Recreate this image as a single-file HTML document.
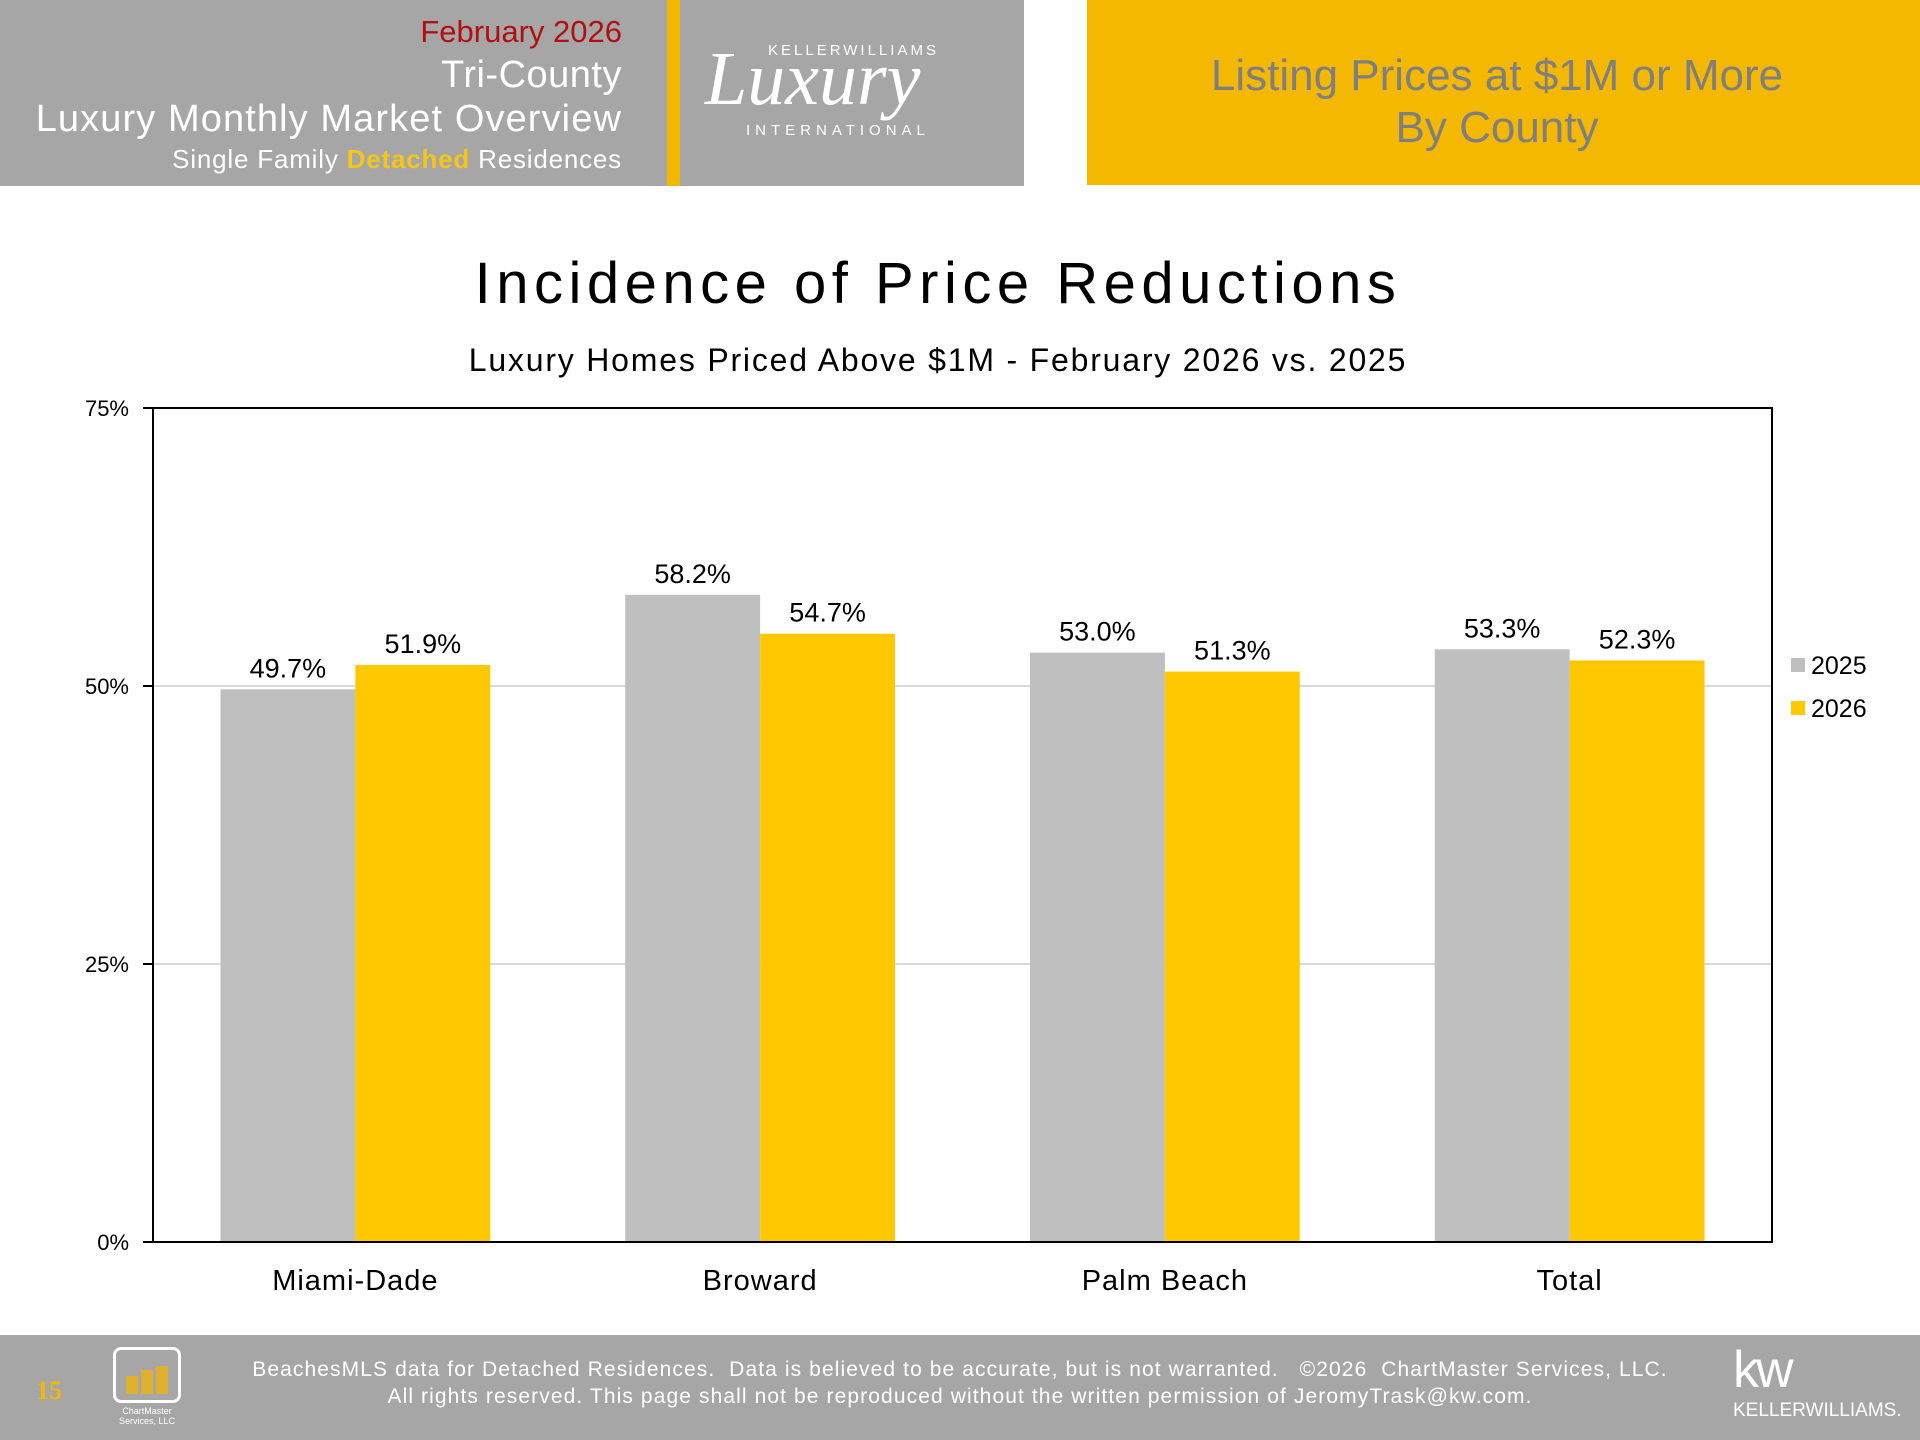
<!DOCTYPE html>
<html><head><meta charset="utf-8"><style>
body{margin:0;width:1920px;height:1440px;position:relative;background:#fff;font-family:"Liberation Sans","DejaVu Sans",sans-serif;overflow:hidden}
.a{position:absolute;white-space:nowrap}
</style></head><body>
<div class="a" style="left:0;top:0;width:1024px;height:186px;background:#a6a6a6"></div>
<div class="a" style="left:667px;top:0;width:13px;height:186px;background:#f2b800"></div>
<div class="a" style="right:1298px;top:14px;font-size:31px;color:#b01010">February 2026</div>
<div class="a" style="right:1298px;top:54px;font-size:38px;color:#fff;letter-spacing:0.5px">Tri-County</div>
<div class="a" style="right:1298px;top:98px;font-size:38px;color:#fff;letter-spacing:1.1px">Luxury Monthly Market Overview</div>
<div class="a" style="right:1298px;top:144px;font-size:26px;color:#fff;letter-spacing:0.8px">Single Family <b style="color:#f5c518">Detached</b> Residences</div>
<div class="a" style="left:768px;top:42px;font-size:15px;letter-spacing:3px;color:#fff">KELLERWILLIAMS</div>
<div class="a" style="left:705px;top:36px;font-size:76px;font-style:italic;font-family:'Liberation Serif',serif;color:#fff">Luxury</div>
<div class="a" style="left:746px;top:122px;font-size:15px;letter-spacing:5px;color:#fff">INTERNATIONAL</div>
<div class="a" style="left:1087px;top:0;width:833px;height:185px;background:#f4b800"></div>
<div class="a" style="left:1087px;width:820px;top:50px;text-align:center;font-size:44px;line-height:52px;color:#7f7f7f">Listing Prices at $1M or More<br>By County</div>
<div class="a" style="left:0;width:1876px;top:250px;text-align:center;font-size:58px;color:#000;letter-spacing:5.5px">Incidence of Price Reductions</div>
<div class="a" style="left:0;width:1876px;top:342px;text-align:center;font-size:32px;color:#000;letter-spacing:1.8px">Luxury Homes Priced Above $1M - February 2026 vs. 2025</div>
<svg class="a" style="left:0;top:0" width="1920" height="1440" id="chart"></svg>
<div class="a" style="left:0;top:1335px;width:1920px;height:105px;background:#a6a6a6"></div>
<div class="a" style="left:36px;top:1376px;font-size:26px;font-weight:bold;color:#f2b800;font-family:'Liberation Serif',serif">15</div>
<div class="a" style="left:113px;top:1347px;width:68px;height:56px;border:3px solid #fff;border-radius:8px;box-sizing:border-box"><div style="position:absolute;left:10px;bottom:6px;width:12px;height:18px;background:#e0b030"></div><div style="position:absolute;left:25px;bottom:6px;width:12px;height:24px;background:#e0b030"></div><div style="position:absolute;left:40px;bottom:6px;width:12px;height:28px;background:#e0b030"></div></div>
<div class="a" style="left:108px;top:1406px;font-size:9px;line-height:10px;color:#fff;text-align:center;width:78px">ChartMaster<br>Services, LLC</div>
<div class="a" style="left:0;width:1920px;top:1356px;text-align:center;font-size:21px;line-height:27px;color:#fff;letter-spacing:1.1px">BeachesMLS data for Detached Residences.&nbsp; Data is believed to be accurate, but is not warranted.&nbsp;&nbsp; ©2026&nbsp; ChartMaster Services, LLC.<br>All rights reserved. This page shall not be reproduced without the written permission of JeromyTrask@kw.com.</div>
<div class="a" style="left:1733px;top:1340px;font-size:52px;color:#fff;letter-spacing:-3px">kw</div>
<div class="a" style="left:1733px;top:1400px;font-size:19px;color:#fff">KELLERWILLIAMS.</div>
<script>
const categories=["Miami-Dade","Broward","Palm Beach","Total"];
const series2025=[49.7,58.2,53.0,53.3];
const series2026=[51.9,54.7,51.3,52.3];
const ticks=[0,25,50,75];
const NS="http://www.w3.org/2000/svg",svg=document.getElementById('chart');
const L=153,R=1772,T=408,B=1242,MAX=75;
const y=v=>B-(v/MAX)*(B-T);
const gw=(R-L)/categories.length;
function mk(t,a){const e=document.createElementNS(NS,t);for(const k in a)e.setAttribute(k,a[k]);svg.appendChild(e);return e;}
ticks.forEach(t=>{
 if(t>0&&t<MAX){const g=mk('line',{x1:L,x2:R,y1:y(t),y2:y(t),stroke:'#d9d9d9','stroke-width':2});
 
 }
 const tk=mk('line',{x1:L-10,x2:L,y1:y(t),y2:y(t),stroke:'#000','stroke-width':2});
 
 
 const tx=mk('text',{x:L-24,y:y(t)+8,'text-anchor':'end','font-size':22,fill:'#000'});tx.textContent=t+'%';
 
 
});
const bw=gw/3;
categories.forEach((c,i)=>{
 const x0=L+i*gw+gw/6;
 [[series2025,'#bfbfbf',0],[series2026,'#ffc800',1]].forEach(([s,col,j])=>{
  const v=s[i],bx=x0+j*bw;
  const r=mk('rect',{x:bx,y:y(v),width:bw,height:B-y(v),fill:col});
  
  
  const t=mk('text',{x:bx+bw/2,y:y(v)-12,'text-anchor':'middle','font-size':27,fill:'#000'});t.textContent=v.toFixed(1)+'%';
  
  
 });
 const ct=mk('text',{x:L+i*gw+gw/2,y:1290,'text-anchor':'middle','font-size':29,fill:'#000','letter-spacing':1});ct.textContent=c;
 
 
});
const fr=mk('rect',{x:L,y:T,width:R-L,height:B-T,fill:'none',stroke:'#000','stroke-width':2});


[['2025','#bfbfbf',665],['2026','#ffc800',708]].forEach(([n,col,ly])=>{
 const s=mk('rect',{x:1791,y:ly-7,width:14,height:14,fill:col});
 
 
 const t=mk('text',{x:1811,y:ly+9,'font-size':25,fill:'#000'});t.textContent=n;
 
 
});
</script>
</body></html>
